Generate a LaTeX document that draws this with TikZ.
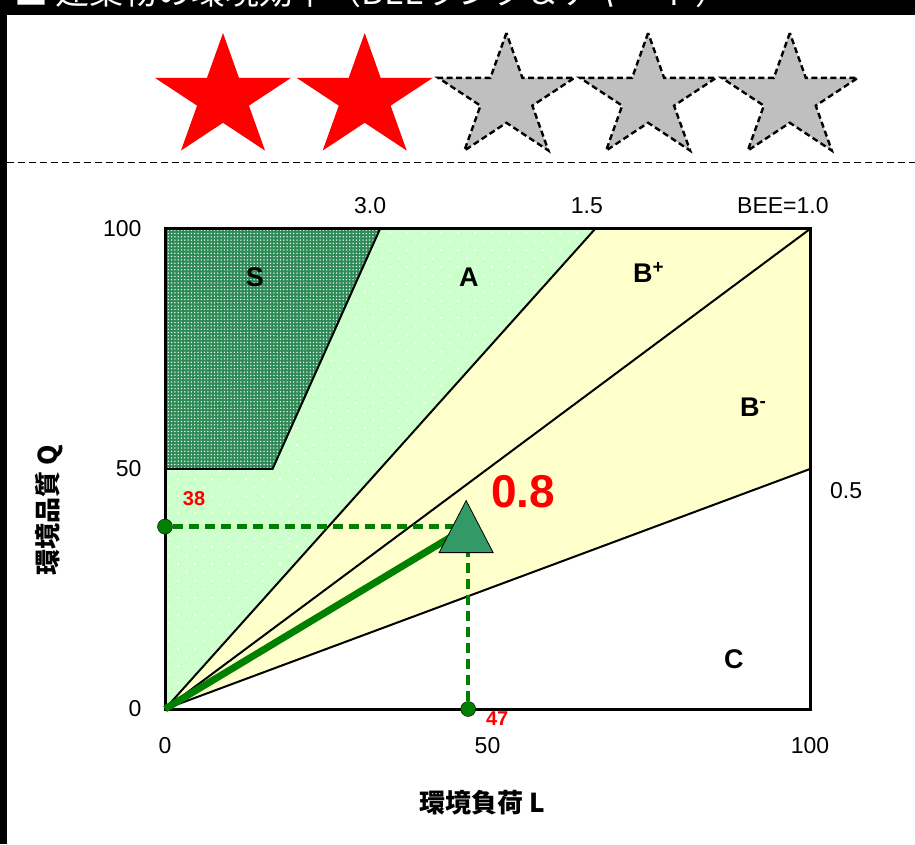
\documentclass[tikz,border=0pt]{standalone}
\usepackage{fontspec}
\setmainfont{Liberation Sans}
\newfontfamily\jpfont{Noto Sans CJK JP}
\usepackage{tikz}
\usetikzlibrary{patterns.meta}
\definecolor{verdeA}{HTML}{CCFFCC}
\definecolor{amareloB}{HTML}{FFFFCC}
\definecolor{verdeS}{HTML}{2E8B57}
\definecolor{verdeT}{HTML}{339966}
\definecolor{verdeL}{HTML}{008000}

\tikzset{
  rankstar/.pic={
    \path[pic actions, xscale=1.1] plot[samples at={0,...,9}]
      (90+36*\x:{ifthenelse(mod(\x,2)==0,65,24.8)}) -- cycle;
  },
  titulo/.style={text=white, font=\jpfont\fontsize{34}{34}\selectfont},
  rotulo/.style={font=\fontsize{23}{23}\selectfont},
  regiao/.style={font=\fontsize{27}{27}\selectfont\bfseries},
  valor/.style={text=red, font=\fontsize{20}{20}\selectfont\bfseries},
  eixo/.style={font=\jpfont\bfseries\fontsize{26}{26}\selectfont},
  linha/.style={black, line width=2pt},
  tracejado/.style={verdeL, line width=4.5pt, dash pattern=on 10pt off 6pt},
  ponto/.style={circle, fill=verdeL, draw=black, inner sep=0pt, minimum size=15pt},
}

\begin{document}
\begin{tikzpicture}[x=1pt,y=1pt]
\useasboundingbox (0,0) rectangle (915,844);

% Faixa do titulo
\fill[black] (0,829) rectangle (915,844);
\fill[black] (0,0) rectangle (7,844);
\node[titulo, anchor=base west, inner sep=0pt] (titulo) at (14,839) {■ 建築物の環境効率（BEEランク＆チャート）};

% Estrelas da classificacao
\foreach \i in {0,1}
  \pic[fill=red] at ({223+141.7*\i},746) {rankstar};
\foreach \i in {2,3,4}
  \pic[fill=gray!50, draw=black, line width=2.4pt, dash pattern=on 6pt off 3.5pt] at ({223+141.7*\i},746) {rankstar};

% Linha tracejada
\draw[black, line width=1.5pt, dash pattern=on 7pt off 4pt] (7,681.5) -- (915,681.5);

% Grafico BEE
\begin{scope}[shift={(165,135)}, x=6.45pt, y=4.8pt]
  \coordinate (o) at (0,0);

  % Regiao A
  \fill[verdeA] (0,0) -- (0,100) -- (66.67,100) -- cycle;
  \fill[pattern={Dots[distance=12pt, radius=1.1pt, angle=45]}, pattern color=white] (0,0) -- (0,100) -- (66.67,100) -- cycle;

  % Regiao B
  \fill[amareloB] (0,0) -- (66.67,100) -- (100,100) -- (100,50) -- cycle;

  % Regiao S
  \fill[verdeS] (0,50) -- (0,100) -- (33.33,100) -- (16.67,50) -- cycle;
  \fill[pattern={Dots[distance=3.3pt, radius=0.75pt]}, pattern color=white] (0,50) -- (0,100) -- (33.33,100) -- (16.67,50) -- cycle;

  % Linhas de BEE
  \draw[linha] (0,50) -- (16.67,50) -- (33.33,100);
  \draw[linha] (o) -- (66.67,100);
  \draw[linha] (o) -- (100,100);
  \draw[linha] (o) -- (100,50);

  % Moldura
  \draw[black, line width=3pt] (0,0) rectangle (100,100);

  % Rotulos dos eixos
  \node[rotulo, anchor=east] (q0) at (-3.1,0) {0};
  \node[rotulo, anchor=east] (q50) at (-3.1,50) {50};
  \node[rotulo, anchor=east] (q100) at (-3.1,100) {100};
  \node[rotulo] (l0) at (0,-7.6) {0};
  \node[rotulo] (l50) at (50,-7.6) {50};
  \node[rotulo] (l100) at (100,-7.6) {100};

  % Rotulos de BEE
  \node[rotulo] (bee3) at (31.8,104.8) {3.0};
  \node[rotulo] (bee15) at (65.4,104.8) {1.5};
  \node[rotulo] (bee1) at (95.8,104.8) {BEE=1.0};
  \node[rotulo] (bee05) at (105.6,45.6) {0.5};

  % Classes
  \node[regiao] (rs) at (13.95,90) {S};
  \node[regiao] (ra) at (47.1,90) {A};
  \node[regiao] (rbp) at (75.0,91) {B\textsuperscript{+}};
  \node[regiao] (rbm) at (91.2,62.9) {B\textsuperscript{-}};
  \node[regiao] (rc) at (88.2,10.4) {C};

  % Resultado
  \coordinate (bee) at (47,38);
  \node[ponto] (pq) at (0,38) {};
  \node[ponto] (pl) at (47,0) {};
  \draw[tracejado] (pq) -- (bee);
  \draw[tracejado] (pl) -- (bee);
  \draw[verdeL, line width=7pt] (o) -- (bee);
  \draw[black, fill=verdeT, line width=0.8pt] ([shift={(-2pt,26pt)}]bee) -- ([shift={(-29pt,-26pt)}]bee) -- ([shift={(25pt,-26pt)}]bee) -- cycle;

  \node[text=red, font=\fontsize{46}{46}\selectfont\bfseries] (vbee) at (55.5,45.2) {0.8};
  \node[valor] (v38) at (4.5,43.75) {38};
  \node[valor] (v47) at (51.5,-1.9) {47};
\end{scope}

% Titulos dos eixos
\node[eixo] (eixoL) at (482,41) {環境負荷 L};
\node[eixo, rotate=90] (eixoQ) at (49,334) {環境品質 Q};

\end{tikzpicture}
\end{document}
